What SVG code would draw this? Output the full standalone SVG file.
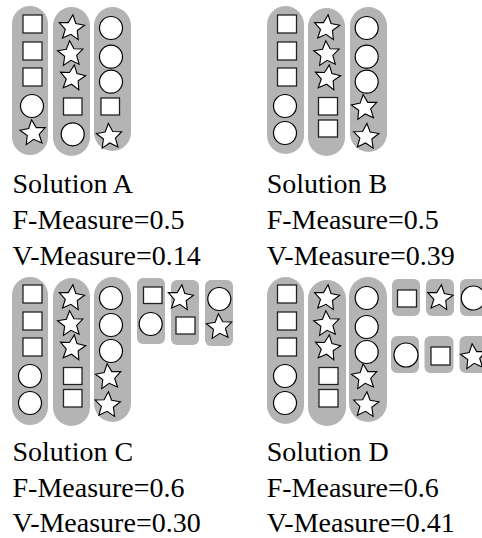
<svg xmlns="http://www.w3.org/2000/svg" xmlns:xlink="http://www.w3.org/1999/xlink" width="482" height="538" viewBox="0 0 482 538">
<style>
.pill{fill:#b4b4b4;stroke:none}
.box{fill:#b4b4b4;stroke:none}
.sq{fill:#fff;stroke:#222;stroke-width:1.3}
.ci{fill:#fff;stroke:#000;stroke-width:1.2}
.st{fill:#fff;stroke:#000;stroke-width:1.1;stroke-linejoin:miter}
.lbl{font-family:"Liberation Serif","Times New Roman",serif;font-size:28px;fill:#000}
</style>
<defs>
<path id="star" d="M0,-13.3 L3.8,-5 L12.7,-4.1 L6,1.9 L7.9,10.9 L0,6.3 L-7.9,10.9 L-6,1.9 L-12.7,-4.1 L-3.8,-5Z"/>
</defs>
<rect width="482" height="538" fill="#fff"/>

<g id="solutionA">
<g id="A-c1">
<rect class="pill" x="12" y="6" width="36" height="149" rx="18"/>
<rect class="sq" x="23" y="15" width="19" height="18"/>
<rect class="sq" x="23" y="42" width="19" height="18"/>
<rect class="sq" x="23" y="68" width="19" height="18"/>
<circle class="ci" cx="32" cy="106" r="11.5"/>
<use href="#star" xlink:href="#star" class="st" transform="translate(33,133) rotate(-6)"/>
</g>
<g id="A-c2">
<rect class="pill" x="53" y="7" width="37" height="149" rx="18.5"/>
<use href="#star" xlink:href="#star" class="st" transform="translate(71.5,28) rotate(6)"/>
<use href="#star" xlink:href="#star" class="st" transform="translate(70.5,54) rotate(-4)"/>
<use href="#star" xlink:href="#star" class="st" transform="translate(72.5,78) rotate(8)"/>
<rect class="sq" x="63.5" y="98" width="18.5" height="17"/>
<circle class="ci" cx="72.7" cy="134.3" r="11.5"/>
</g>
<g id="A-c3">
<rect class="pill" x="94" y="7" width="37" height="144" rx="18.5"/>
<circle class="ci" cx="111" cy="28" r="11.5"/>
<circle class="ci" cx="111" cy="56.7" r="11.5"/>
<circle class="ci" cx="111" cy="81.7" r="11.5"/>
<rect class="sq" x="101" y="98" width="18.5" height="17"/>
<use href="#star" xlink:href="#star" class="st" transform="translate(109.3,136.7) rotate(-4)"/>
</g>
<text class="lbl" x="12.5" y="193">Solution A</text>
<text class="lbl" x="12.5" y="229">F-Measure=0.5</text>
<text class="lbl" x="12.5" y="265">V-Measure=0.14</text>
</g>

<g id="solutionB">
<g id="B-c1">
<rect class="pill" x="267" y="6" width="37" height="148" rx="18.5"/>
<rect class="sq" x="277.5" y="15" width="19" height="18"/>
<rect class="sq" x="277.5" y="42" width="19" height="18"/>
<rect class="sq" x="277.5" y="68" width="19" height="18"/>
<circle class="ci" cx="285" cy="106" r="11.5"/>
<circle class="ci" cx="285" cy="133" r="11.5"/>
</g>
<g id="B-c2">
<rect class="pill" x="308" y="8" width="37" height="148" rx="18.5"/>
<use href="#star" xlink:href="#star" class="st" transform="translate(326.7,28) rotate(6)"/>
<use href="#star" xlink:href="#star" class="st" transform="translate(326.7,54) rotate(-4)"/>
<use href="#star" xlink:href="#star" class="st" transform="translate(327.5,78) rotate(8)"/>
<rect class="sq" x="318.5" y="97.5" width="19" height="17.5"/>
<rect class="sq" x="318.5" y="120" width="19" height="17"/>
</g>
<g id="B-c3">
<rect class="pill" x="350" y="7" width="37" height="145" rx="18.5"/>
<circle class="ci" cx="366.7" cy="28" r="11.5"/>
<circle class="ci" cx="366.7" cy="56.7" r="11.5"/>
<circle class="ci" cx="366.7" cy="81.7" r="11.5"/>
<use href="#star" xlink:href="#star" class="st" transform="translate(364.5,107.7) rotate(-6)"/>
<use href="#star" xlink:href="#star" class="st" transform="translate(366,136.7) rotate(4)"/>
</g>
<text class="lbl" x="266.7" y="193">Solution B</text>
<text class="lbl" x="266.7" y="229">F-Measure=0.5</text>
<text class="lbl" x="266.7" y="265">V-Measure=0.39</text>
</g>

<g id="solutionC">
<g id="C-c1">
<rect class="pill" x="12" y="277" width="36" height="148" rx="18"/>
<rect class="sq" x="23" y="285" width="19" height="18"/>
<rect class="sq" x="23" y="312" width="19" height="18"/>
<rect class="sq" x="23" y="338" width="19" height="18"/>
<circle class="ci" cx="30" cy="376" r="11.5"/>
<circle class="ci" cx="30" cy="403" r="11.5"/>
</g>
<g id="C-c2">
<rect class="pill" x="53" y="278" width="37" height="148" rx="18.5"/>
<use href="#star" xlink:href="#star" class="st" transform="translate(71.5,298) rotate(6)"/>
<use href="#star" xlink:href="#star" class="st" transform="translate(70.5,324) rotate(-4)"/>
<use href="#star" xlink:href="#star" class="st" transform="translate(72.5,348) rotate(8)"/>
<rect class="sq" x="63.5" y="367.5" width="18.5" height="17"/>
<rect class="sq" x="63.5" y="389.5" width="18.5" height="17.5"/>
</g>
<g id="C-c3">
<rect class="pill" x="94" y="277" width="37" height="145" rx="18.5"/>
<circle class="ci" cx="111" cy="298" r="11.5"/>
<circle class="ci" cx="111" cy="325" r="11.5"/>
<circle class="ci" cx="111" cy="351" r="11.5"/>
<use href="#star" xlink:href="#star" class="st" transform="translate(108.5,377) rotate(-6)"/>
<use href="#star" xlink:href="#star" class="st" transform="translate(107.5,405) rotate(4)"/>
</g>
<g id="C-c4">
<rect class="box" x="137" y="278" width="28" height="66" rx="6"/>
<rect class="sq" x="143.5" y="287" width="18.5" height="16.5"/>
<circle class="ci" cx="150.7" cy="324" r="11.5"/>
</g>
<g id="C-c5">
<rect class="box" x="171" y="280" width="28" height="65" rx="6"/>
<use href="#star" xlink:href="#star" class="st" transform="translate(180.5,298) rotate(6)"/>
<rect class="sq" x="176" y="317" width="19" height="17"/>
</g>
<g id="C-c6">
<rect class="box" x="205" y="280" width="28" height="66" rx="6"/>
<circle class="ci" cx="219.3" cy="299" r="11.5"/>
<use href="#star" xlink:href="#star" class="st" transform="translate(219.3,327) rotate(-4)"/>
</g>
<text class="lbl" x="12.5" y="461">Solution C</text>
<text class="lbl" x="12.5" y="497">F-Measure=0.6</text>
<text class="lbl" x="12.5" y="532">V-Measure=0.30</text>
</g>

<g id="solutionD">
<g id="D-c1">
<rect class="pill" x="267" y="277" width="37" height="147" rx="18.5"/>
<rect class="sq" x="277.5" y="285" width="19" height="18"/>
<rect class="sq" x="277.5" y="312" width="19" height="18"/>
<rect class="sq" x="277.5" y="338" width="19" height="18"/>
<circle class="ci" cx="285" cy="376" r="11.5"/>
<circle class="ci" cx="285" cy="403" r="11.5"/>
</g>
<g id="D-c2">
<rect class="pill" x="308" y="280" width="38" height="146" rx="19"/>
<use href="#star" xlink:href="#star" class="st" transform="translate(326.7,298) rotate(6)"/>
<use href="#star" xlink:href="#star" class="st" transform="translate(326.7,324) rotate(-4)"/>
<use href="#star" xlink:href="#star" class="st" transform="translate(327.5,348) rotate(8)"/>
<rect class="sq" x="319" y="367.5" width="19" height="17"/>
<rect class="sq" x="319" y="389.5" width="19" height="17.5"/>
</g>
<g id="D-c3">
<rect class="pill" x="349" y="277" width="38" height="145" rx="19"/>
<circle class="ci" cx="366.7" cy="298" r="11.5"/>
<circle class="ci" cx="366.7" cy="327" r="11.5"/>
<circle class="ci" cx="366.7" cy="352" r="11.5"/>
<use href="#star" xlink:href="#star" class="st" transform="translate(364.5,377) rotate(-6)"/>
<use href="#star" xlink:href="#star" class="st" transform="translate(366,405) rotate(4)"/>
</g>
<g id="D-c4">
<rect class="box" x="392" y="279" width="28" height="37" rx="6"/>
<rect class="sq" x="397.5" y="290" width="19" height="17"/>
</g>
<g id="D-c5">
<rect class="box" x="426" y="279" width="28" height="37" rx="6"/>
<use href="#star" xlink:href="#star" class="st" transform="translate(440,298) rotate(6)"/>
</g>
<g id="D-c6">
<rect class="box" x="460" y="279" width="30" height="37" rx="6"/>
<circle class="ci" cx="473.3" cy="298" r="12"/>
</g>
<g id="D-c7">
<rect class="box" x="391" y="336" width="28" height="37" rx="6"/>
<circle class="ci" cx="406" cy="355" r="12"/>
</g>
<g id="D-c8">
<rect class="box" x="424.5" y="336" width="29" height="37" rx="6"/>
<rect class="sq" x="431" y="347" width="19" height="18"/>
</g>
<g id="D-c9">
<rect class="box" x="459.5" y="336" width="30" height="37" rx="6"/>
<use href="#star" xlink:href="#star" class="st" transform="translate(473.5,357) rotate(-6)"/>
</g>
<text class="lbl" x="266.7" y="461">Solution D</text>
<text class="lbl" x="266.7" y="497">F-Measure=0.6</text>
<text class="lbl" x="266.7" y="532">V-Measure=0.41</text>
</g>
</svg>
